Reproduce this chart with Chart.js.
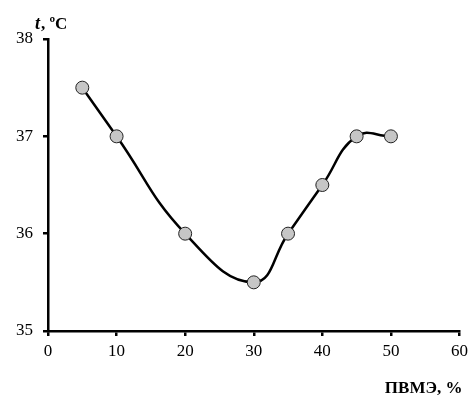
<!DOCTYPE html>
<html>
<head>
<meta charset="utf-8">
<script src="https://cdn.jsdelivr.net/npm/chart.js@4/dist/chart.umd.min.js"></script>
<style>
    html, body { margin: 0; padding: 0; background: #fff; }
    #wrap { width: 473px; height: 395px; position: relative; }
</style>
</head>
<body>
<div id="wrap"><canvas id="chart"></canvas></div>
<script>
// данные
const pvmeContent = [5, 10, 20, 30, 35, 40, 45, 50];
const temperature = [37.5, 37, 36, 35.5, 36, 36.5, 37, 37];
const xTicks = [0, 10, 20, 30, 40, 50, 60];
const yTicks = [35, 36, 37, 38];

const serif = '"Liberation Serif", "Times New Roman", serif';

// подписи осей рисуем сами, как в оригинале
const axisTitles = {
    id: 'axisTitles',
    afterDraw(chart) {
        const ctx = chart.ctx;
        const area = chart.chartArea;
        ctx.save();
        ctx.fillStyle = '#000';
        ctx.textBaseline = 'alphabetic';
        ctx.textAlign = 'left';
        ctx.font = 'italic bold 18px ' + serif;
        ctx.fillText('t', area.left - 13, area.top - 10);
        ctx.font = 'bold 17px ' + serif;
        ctx.fillText(', ºC', area.left - 7, area.top - 10);
        ctx.textAlign = 'right';
        ctx.fillText('ПВМЭ, %', area.right + 3, chart.height - 2);
        ctx.restore();
    }
};

const ctx = document.getElementById('chart');
new Chart(ctx, {
    type: 'line',
    data: {
        datasets: [{
            data: pvmeContent.map((x, i) => ({ x: x, y: temperature[i] })),
            borderColor: '#000',
            borderWidth: 2.5,
            tension: 0.45,
            pointRadius: 6.5,
            pointHoverRadius: 6.5,
            pointBackgroundColor: '#c6c6c6',
            pointBorderColor: '#222',
            pointBorderWidth: 1,
            clip: false
        }]
    },
    options: {
        responsive: true,
        maintainAspectRatio: false,
        animation: false,
        events: [],
        layout: { padding: { top: 39, right: 11, left: 0, bottom: 0 } },
        plugins: {
            legend: { display: false },
            tooltip: { enabled: false }
        },
        scales: {
            x: {
                type: 'linear',
                min: 0,
                max: 60,
                afterBuildTicks: (s) => { s.ticks = xTicks.map(v => ({ value: v })); },
                afterFit: (s) => { s.height = 64; },
                border: { color: '#000', width: 2.5 },
                grid: { drawOnChartArea: false, drawTicks: true, tickLength: 5, color: '#000', lineWidth: 2.5 },
                ticks: { color: '#000', padding: 5, font: { family: serif, size: 17 } }
            },
            y: {
                type: 'linear',
                min: 35,
                max: 38,
                afterBuildTicks: (s) => { s.ticks = yTicks.map(v => ({ value: v })); },
                afterFit: (s) => { s.width = 48; },
                border: { color: '#000', width: 2.5 },
                grid: { drawOnChartArea: false, drawTicks: true, tickLength: 5, color: '#000', lineWidth: 2.5 },
                ticks: { color: '#000', padding: 10, font: { family: serif, size: 17 } }
            }
        }
    },
    plugins: [axisTitles]
});
</script>
</body>
</html>
